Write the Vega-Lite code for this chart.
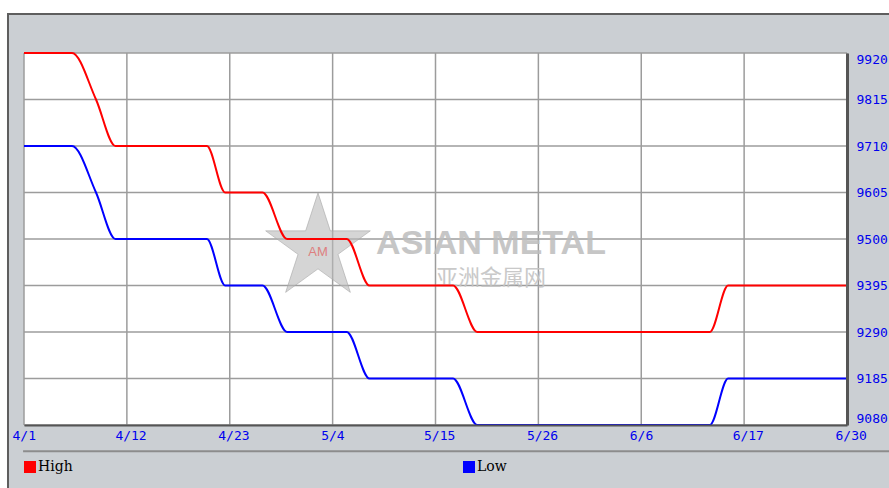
{
  "$schema": "https://vega.github.io/schema/vega-lite/v6.json",
  "width": 823,
  "height": 372,
  "autosize": {"type": "none"},
  "padding": {"left": 24, "top": 53, "right": 42, "bottom": 63},
  "background": "#ffffff",
  "config": {
    "view": {"stroke": null},
    "axis": {"zindex": 1}
  },
  "datasets": {
    "prices": [
      {"date": "2024-04-01T00:00:00Z", "series": "High", "price": 9920},
      {"date": "2024-04-06T06:00:00Z", "series": "High", "price": 9920},
      {"date": "2024-04-08T21:00:00Z", "series": "High", "price": 9815},
      {"date": "2024-04-11T00:00:00Z", "series": "High", "price": 9710},
      {"date": "2024-04-21T00:00:00Z", "series": "High", "price": 9710},
      {"date": "2024-04-23T00:00:00Z", "series": "High", "price": 9605},
      {"date": "2024-04-27T02:00:00Z", "series": "High", "price": 9605},
      {"date": "2024-04-29T19:00:00Z", "series": "High", "price": 9500},
      {"date": "2024-05-06T07:00:00Z", "series": "High", "price": 9500},
      {"date": "2024-05-08T19:00:00Z", "series": "High", "price": 9395},
      {"date": "2024-05-17T22:00:00Z", "series": "High", "price": 9395},
      {"date": "2024-05-20T14:00:00Z", "series": "High", "price": 9290},
      {"date": "2024-06-15T00:00:00Z", "series": "High", "price": 9290},
      {"date": "2024-06-17T00:00:00Z", "series": "High", "price": 9395},
      {"date": "2024-06-30T00:00:00Z", "series": "High", "price": 9395},
      {"date": "2024-04-01T00:00:00Z", "series": "Low", "price": 9710},
      {"date": "2024-04-06T06:00:00Z", "series": "Low", "price": 9710},
      {"date": "2024-04-08T21:00:00Z", "series": "Low", "price": 9605},
      {"date": "2024-04-11T00:00:00Z", "series": "Low", "price": 9500},
      {"date": "2024-04-21T00:00:00Z", "series": "Low", "price": 9500},
      {"date": "2024-04-23T00:00:00Z", "series": "Low", "price": 9395},
      {"date": "2024-04-27T02:00:00Z", "series": "Low", "price": 9395},
      {"date": "2024-04-29T19:00:00Z", "series": "Low", "price": 9290},
      {"date": "2024-05-06T07:00:00Z", "series": "Low", "price": 9290},
      {"date": "2024-05-08T19:00:00Z", "series": "Low", "price": 9185},
      {"date": "2024-05-17T22:00:00Z", "series": "Low", "price": 9185},
      {"date": "2024-05-20T14:00:00Z", "series": "Low", "price": 9080},
      {"date": "2024-06-15T00:00:00Z", "series": "Low", "price": 9080},
      {"date": "2024-06-17T00:00:00Z", "series": "Low", "price": 9185},
      {"date": "2024-06-30T00:00:00Z", "series": "Low", "price": 9185}
    ],
    "xgrid": [
      {"t": 1711929600000}, {"t": 1712901600000}, {"t": 1713873600000}, {"t": 1714845600000}, {"t": 1715817600000},
      {"t": 1716789600000}, {"t": 1717761600000}, {"t": 1718733600000}, {"t": 1719705600000}
    ],
    "ygrid": [
      {"v": 9080}, {"v": 9185}, {"v": 9290}, {"v": 9395}, {"v": 9500}, {"v": 9605}, {"v": 9710}, {"v": 9815}, {"v": 9920}
    ]
  },
  "data": {"name": "prices"},
  "layer": [
    {
      "data": {"values": [{}]},
      "mark": {"type": "rect", "fill": "#cbcfd3", "stroke": "#5e5e5e", "strokeWidth": 2},
      "encoding": {
        "x": {"datum": 1711778400000, "type": "temporal", "scale": {"type": "utc"}},
        "x2": {"datum": 1720569600000},
        "y": {"datum": 10008, "type": "quantitative"},
        "y2": {"datum": 8900}
      }
    },
    {
      "data": {"values": [{}]},
      "mark": {"type": "rect", "fill": "#ffffff"},
      "encoding": {
        "x": {"datum": 1711929600000, "type": "temporal", "scale": {"type": "utc"}},
        "x2": {"datum": 1719705600000},
        "y": {"datum": 9920, "type": "quantitative"},
        "y2": {"datum": 9080}
      }
    },
    {
      "data": {"values": [{}]},
      "mark": {"type": "rule", "stroke": "#8c8c8c", "strokeWidth": 2},
      "encoding": {
        "x": {"datum": 1711920960000, "type": "temporal", "scale": {"type": "utc"}},
        "x2": {"datum": 1720569600000},
        "y": {"datum": 9021, "type": "quantitative"}
      }
    },
    {
      "data": {"name": "xgrid"},
      "mark": {"type": "rule", "stroke": "#9c9c9c", "strokeWidth": 1.5},
      "encoding": {
        "x": {"field": "t", "type": "temporal", "scale": {"type": "utc"}}
      }
    },
    {
      "data": {"name": "ygrid"},
      "mark": {"type": "rule", "stroke": "#9c9c9c", "strokeWidth": 1.5},
      "encoding": {
        "y": {"field": "v", "type": "quantitative"}
      }
    },
    {
      "data": {"values": [{}]},
      "mark": {"type": "point", "shape": "M0,-1L0.2245,-0.309L0.951,-0.309L0.363,0.118L0.588,0.809L0,0.382L-0.588,0.809L-0.363,0.118L-0.951,-0.309L-0.2245,-0.309Z", "filled": true, "fill": "#b9b9b9", "fillOpacity": 0.6, "stroke": "#a6a6a6", "strokeWidth": 1, "strokeOpacity": 0.6, "size": 12100},
      "encoding": {
        "x": {"datum": 1714707360000, "type": "temporal", "scale": {"type": "utc"}},
        "y": {"datum": 9480, "type": "quantitative"}
      }
    },
    {
      "data": {"values": [{}]},
      "mark": {"type": "text", "text": "AM", "font": "Liberation Sans", "fontSize": 13, "fill": "#e06a6a", "opacity": 0.8, "align": "center", "baseline": "middle"},
      "encoding": {
        "x": {"datum": 1714707360000, "type": "temporal", "scale": {"type": "utc"}},
        "y": {"datum": 9471, "type": "quantitative"}
      }
    },
    {
      "data": {"values": [{}]},
      "mark": {"type": "text", "text": "ASIAN METAL", "font": "Liberation Sans", "fontWeight": "bold", "fontSize": 34, "fill": "#bdbdbd", "opacity": 0.85, "align": "center", "baseline": "middle"},
      "encoding": {
        "x": {"datum": 1716342048000, "type": "temporal", "scale": {"type": "utc"}},
        "y": {"datum": 9488, "type": "quantitative"}
      }
    },
    {
      "data": {"values": [{}]},
      "mark": {"type": "text", "text": "亚洲金属网", "font": "Noto Sans CJK SC", "fontSize": 22, "fill": "#c4c4c4", "opacity": 0.9, "align": "center", "baseline": "middle"},
      "encoding": {
        "x": {"datum": 1716342048000, "type": "temporal", "scale": {"type": "utc"}},
        "y": {"datum": 9412, "type": "quantitative"}
      }
    },
    {
      "mark": {"type": "line", "interpolate": "monotone", "strokeWidth": 2},
      "encoding": {
        "x": {
          "field": "date", "type": "temporal",
          "scale": {"type": "utc", "domain": [1711929600000, 1719705600000]},
          "axis": {
            "title": null,
            "values": [1711929600000, 1712901600000, 1713873600000, 1714845600000, 1715817600000, 1716789600000, 1717761600000, 1718733600000, 1719705600000],
            "labelExpr": "['4/1','4/12','4/23','5/4','5/15','5/26','6/6','6/17','6/30'][round((datum.value - 1711929600000) / 972000000)]",
            "grid": false,
            "ticks": false,
            "domain": true, "domainColor": "#555555", "domainWidth": 2,
            "labelAlign": "left", "labelOffset": -12, "labelFlush": false, "labelOverlap": false, "labelBound": false,
            "labelFont": "DejaVu Sans Mono", "labelFontSize": 13, "labelColor": "#0000ee", "labelPadding": 4,
            "zindex": 1
          }
        },
        "y": {
          "field": "price", "type": "quantitative",
          "scale": {"domain": [9080, 9920], "zero": false, "nice": false},
          "axis": {
            "title": null, "orient": "right",
            "values": [9080, 9185, 9290, 9395, 9500, 9605, 9710, 9815, 9920],
            "format": "d",
            "grid": false,
            "ticks": false,
            "domain": true, "domainColor": "#555555", "domainWidth": 3,
            "labelFlush": true, "labelOverlap": false, "labelPadding": 9,
            "labelFont": "DejaVu Sans Mono", "labelFontSize": 13, "labelColor": "#0000ee",
            "zindex": 1
          }
        },
        "color": {
          "field": "series", "type": "nominal",
          "scale": {"domain": ["High", "Low"], "range": ["#ff0000", "#0000ff"]},
          "legend": {
            "title": null, "orient": "none", "legendX": -1, "legendY": 407,
            "direction": "horizontal", "symbolType": "square", "symbolSize": 36, "symbolStrokeWidth": 6,
            "labelFont": "DejaVu Serif", "labelFontSize": 14, "labelColor": "#000000", "labelOffset": 1,
            "columnPadding": 381, "padding": 0
          }
        }
      }
    }
  ]
}
